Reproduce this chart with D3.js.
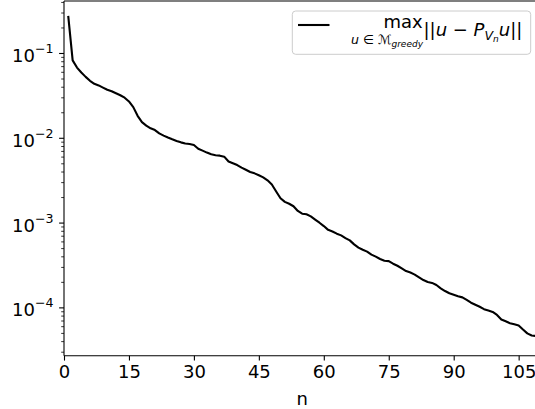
<!DOCTYPE html>
<html>
<head>
<meta charset="utf-8">
<script src="https://cdn.jsdelivr.net/npm/d3@7"></script>
<style>
  html, body { margin: 0; padding: 0; background: #fff; }
  svg { display: block; font-family: "DejaVu Sans", sans-serif; }
</style>
</head>
<body>
<svg id="chart" width="535" height="409"></svg>
<script>
// ---- data ----
const nValues = [
  1,2,3,4,5,6,7,8,9,10,11,12,13,14,15,16,17,18,19,20,
  21,22,23,24,25,26,27,28,29,30,31,32,33,34,35,36,37,38,39,40,
  41,42,43,44,45,46,47,48,49,50,51,52,53,54,55,56,57,58,59,60,
  61,62,63,64,65,66,67,68,69,70,71,72,73,74,75,76,77,78,79,80,
  81,82,83,84,85,86,87,88,89,90,91,92,93,94,95,96,97,98,99,100,
  101,102,103,104,105,106,107,108,109,110
];
const maxErrors = [
  0.27, 0.083, 0.0682, 0.0596, 0.053, 0.0476, 0.0439, 0.042, 0.0396, 0.0374,
  0.0359, 0.034, 0.0322, 0.0301, 0.0272, 0.0233, 0.0184, 0.0155, 0.0141, 0.0131,
  0.0125, 0.01143, 0.01076, 0.01021, 0.00973, 0.00931, 0.00895, 0.00869, 0.00857, 0.00832,
  0.00754, 0.00716, 0.00678, 0.00647, 0.00631, 0.00624, 0.00607, 0.00532, 0.00508, 0.00483,
  0.00451, 0.00425, 0.00401, 0.00386, 0.00367, 0.00346, 0.00319, 0.00285, 0.00236, 0.00196,
  0.00178, 0.00169, 0.00158, 0.00139, 0.00129, 0.00127, 0.0012, 0.0011, 0.00101, 0.000922,
  0.000832, 0.000796, 0.00075, 0.000716, 0.000665, 0.000625, 0.000561, 0.000514, 0.000484, 0.000461,
  0.000425, 0.000402, 0.000377, 0.00036, 0.000356, 0.000332, 0.000314, 0.000292, 0.000272, 0.000261,
  0.000247, 0.000229, 0.000213, 0.000202, 0.000197, 0.000186, 0.00017, 0.000158, 0.000149, 0.000143,
  0.000137, 0.000133, 0.000124, 0.000115, 0.000109, 0.000103, 0.0000966, 0.000093, 0.0000895, 0.0000826,
  0.000073, 0.0000695, 0.000066, 0.000064, 0.000062, 0.0000555, 0.00005, 0.0000472, 0.0000467, 0.0000462
];
const xTicks = [0, 15, 30, 45, 60, 75, 90, 105];
const yMajorExps = [-1, -2, -3, -4];
const xLabel = "n";

// ---- layout ----
const svg = d3.select("#chart");
const mLeft = 64, mRight = 540.3, mTop = 1, mBottom = 355.7;
const x = d3.scaleLinear().domain([0, 110]).range([mLeft, mRight]);
const y = d3.scaleLog().domain([Math.pow(10, -4.564), Math.pow(10, -0.381)]).range([mBottom, mTop]);
const FS = 18;

svg.append("rect").attr("width", 535).attr("height", 409).attr("fill", "#fff");

// line
const line = d3.line().x((d, i) => x(nValues[i])).y(d => y(d));
svg.append("path")
  .datum(maxErrors)
  .attr("d", line)
  .attr("fill", "none")
  .attr("stroke", "#000")
  .attr("stroke-width", 2.1)
  .attr("stroke-linejoin", "round")
  .attr("stroke-linecap", "square");

// spines
const spines = svg.append("g").attr("stroke", "#000").attr("stroke-width", 1.1).attr("fill", "none");
spines.append("line").attr("x1", mLeft).attr("x2", mLeft).attr("y1", mTop).attr("y2", mBottom);
spines.append("line").attr("x1", mLeft).attr("x2", mRight).attr("y1", mBottom).attr("y2", mBottom);
spines.append("line").attr("x1", mLeft).attr("x2", mRight).attr("y1", mTop).attr("y2", mTop);
spines.append("line").attr("x1", mRight).attr("x2", mRight).attr("y1", mTop).attr("y2", mBottom);

// x axis
const xAxis = d3.axisBottom(x).tickValues(xTicks).tickSize(4.9).tickPadding(4.6).tickSizeOuter(0);
const gx = svg.append("g").attr("transform", `translate(0,${mBottom})`).call(xAxis);
gx.select(".domain").remove();
gx.selectAll(".tick line").attr("stroke", "#000").attr("stroke-width", 1.1);
gx.selectAll(".tick text").attr("font-size", FS).attr("font-family", "DejaVu Sans").attr("fill", "#000");

svg.append("text").attr("x", (mLeft + mRight) / 2).attr("y", 404.5)
  .attr("text-anchor", "middle").attr("font-size", FS).attr("fill", "#000").text(xLabel);

// y axis ticks
const [d0, d1] = y.domain();
const minor = [];
for (let e = -5; e <= 0; e++) {
  for (let m = 2; m <= 9; m++) {
    const v = m * Math.pow(10, e);
    if (v >= d0 && v <= d1) minor.push(v);
  }
}
const gy = svg.append("g");
gy.selectAll("line.minor").data(minor).join("line")
  .attr("class", "minor")
  .attr("x1", mLeft - 2.8).attr("x2", mLeft)
  .attr("y1", d => y(d)).attr("y2", d => y(d))
  .attr("stroke", "#000").attr("stroke-width", 0.8);
gy.selectAll("line.major").data(yMajorExps).join("line")
  .attr("class", "major")
  .attr("x1", mLeft - 4.9).attr("x2", mLeft)
  .attr("y1", d => y(Math.pow(10, d))).attr("y2", d => y(Math.pow(10, d)))
  .attr("stroke", "#000").attr("stroke-width", 1.1);
const ylab = gy.selectAll("text.ylab").data(yMajorExps).join("text")
  .attr("class", "ylab")
  .attr("x", mLeft - 10.5)
  .attr("y", d => y(Math.pow(10, d)) + 8.6)
  .attr("text-anchor", "end")
  .attr("font-size", FS)
  .attr("fill", "#000");
ylab.append("tspan").text("10");
ylab.append("tspan").attr("font-size", 12.6).attr("dy", -9).text(d => "\u2212" + Math.abs(d));

// legend
const lg = svg.append("g");
lg.append("rect").attr("x", 292.3).attr("y", 11).attr("width", 238.4).attr("height", 43.3)
  .attr("rx", 3.4).attr("fill", "#fff").attr("fill-opacity", 0.8)
  .attr("stroke", "#cccccc").attr("stroke-width", 1);
lg.append("line").attr("x1", 298).attr("x2", 329.5).attr("y1", 25).attr("y2", 25)
  .attr("stroke", "#000").attr("stroke-width", 2.1);
lg.append("text").attr("x", 403).attr("y", 28).attr("text-anchor", "middle")
  .attr("font-size", FS).attr("fill", "#000").text("max");
const sub = lg.append("text").attr("x", 351).attr("y", 44.2).attr("font-size", 12.6).attr("fill", "#000");
sub.append("tspan").attr("font-style", "italic").text("u");
sub.append("tspan").text(" \u2208 ");
sub.append("tspan").text("\u2133");
sub.append("tspan").attr("font-style", "italic").attr("font-size", 9).attr("dy", 3).text("greedy");
const mainT = lg.append("text").attr("x", 423.5).attr("y", 36).attr("font-size", FS).attr("fill", "#000");
mainT.append("tspan").text("||");
mainT.append("tspan").attr("font-style", "italic").text("u");
mainT.append("tspan").text(" \u2212 ");
mainT.append("tspan").attr("font-style", "italic").text("P");
mainT.append("tspan").attr("font-style", "italic").attr("font-size", 12.6).attr("dy", 3.5).text("V");
mainT.append("tspan").attr("font-style", "italic").attr("font-size", 9).attr("dy", 2).text("n");
mainT.append("tspan").attr("font-style", "italic").attr("dy", -5.5).text("u");
mainT.append("tspan").text("||");
</script>
</body>
</html>
